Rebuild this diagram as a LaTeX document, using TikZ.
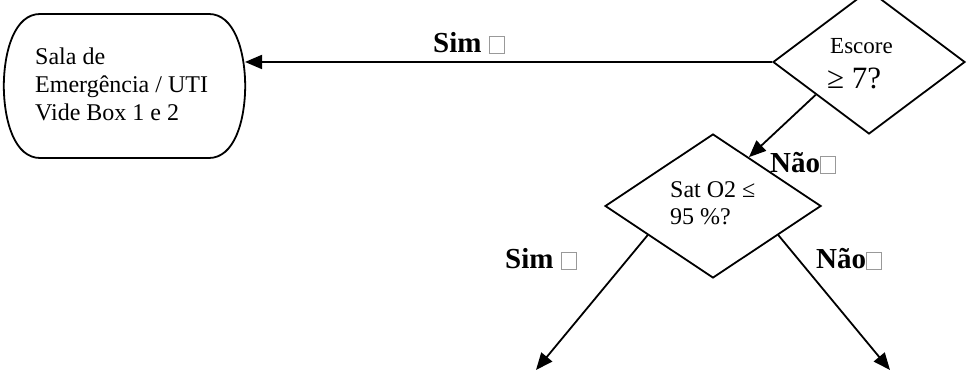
\documentclass[tikz,border=0pt]{standalone}
\usepackage{fontspec}
\setmainfont{Liberation Serif}
\usetikzlibrary{arrows.meta,shapes.geometric,calc}
\begin{document}
\begin{tikzpicture}[x=1pt,y=-1pt,
  line/.style={line width=1.8pt},
  flow/.style={line, -{Triangle[length=17pt,width=14pt]}},
  decision/.style={diamond, draw, line width=1.8pt, inner sep=0pt},
  body/.style={anchor=base west, inner sep=0pt, font=\fontsize{24}{28}\selectfont},
  answer/.style={anchor=base west, inner sep=0pt, font=\fontsize{29}{34}\selectfont\bfseries}]
\useasboundingbox (0,0) rectangle (969,371);
% outlined grey square that follows each answer
\newcommand{\tofubox}{{\color{gray!80}\setlength{\fboxrule}{1pt}\setlength{\fboxsep}{0pt}\fbox{\rule{0pt}{16pt}\rule{14pt}{0pt}}}}

% terminal box
\node[minimum width=241pt, minimum height=144pt, inner sep=0pt] (sala) at (124.5,86) {};
\draw[line] (40,14) -- (209,14)
  .. controls (234,14) and (245,50) .. (sala.east)
  .. controls (245,122) and (234,158) .. (209,158)
  -- (40,158)
  .. controls (15,158) and (4,122) .. (sala.west)
  .. controls (4,50) and (15,14) .. (40,14) -- cycle;
\node[body] (sala1) at (35,65) {Sala de};
\node[body] (sala2) at (35,93) {Emergência / UTI};
\node[body] (sala3) at (35,121) {Vide Box 1 e 2};
\coordinate (salaIn) at (245,62);

% decisions
\node[decision, minimum width=192pt, minimum height=144pt] (esc) at (869,62) {};
\node[body, font=\fontsize{23}{28}\selectfont] (esc1) at (830,54) {Escore};
\node[body, font=\fontsize{31}{34}\selectfont] (esc2) at (827,89) {≥ 7?};

\node[decision, minimum width=216pt, minimum height=144pt] (sat) at (713,206) {};
\node[body] (sat1) at (670,198) {Sat O2 ≤};
\node[body] (sat2) at (670,225) {95 \%?};

% connectors
\draw[flow] (esc.west) -- (salaIn);
\draw[flow] ($(esc.west)!0.45!(esc.south)$) -- ($(sat.north)!0.33!(sat.east)$);
\coordinate (outYes) at (536,370);
\coordinate (outNo) at (890,370);
\draw[flow] ($(sat.west)!0.4!(sat.south)$) -- (outYes);
\draw[flow] ($(sat.east)!0.4!(sat.south)$) -- (outNo);

% answer labels
\node[answer] (lblYesTop) at (433,53) {Sim \tofubox};
\node[answer] (lblNoTop) at (770,173) {Não\tofubox};
\node[answer] (lblYes) at (505,269) {Sim \tofubox};
\node[answer] (lblNo) at (816,269) {Não\tofubox};
\end{tikzpicture}
\end{document}
